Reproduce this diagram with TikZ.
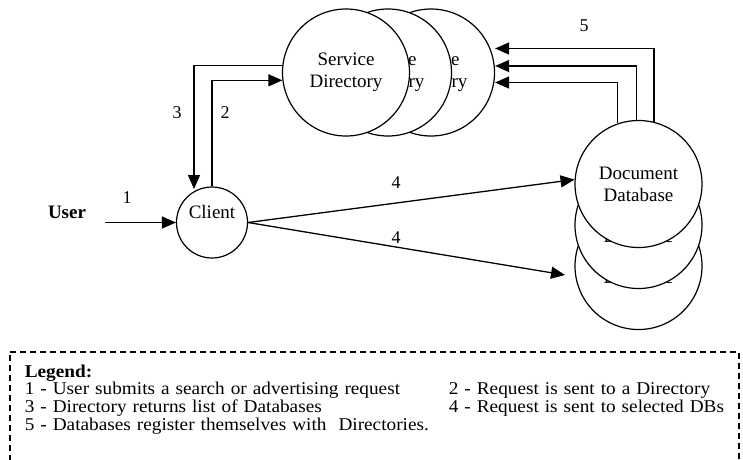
\documentclass[tikz,border=0pt]{standalone}
\usepackage{fontspec}
\setmainfont{Liberation Serif}
\newfontfamily\legendfont[FakeStretch=1.07]{Liberation Serif}
\usetikzlibrary{arrows.meta}

\begin{document}
\begin{tikzpicture}[x=1pt,y=-1pt,
    proc/.style={circle,draw,line width=1.2pt,fill=white,minimum size=127pt,
      inner sep=0pt,align=center,font=\fontsize{19}{22}\selectfont},
    flow/.style={line width=1.3pt,-{Triangle[length=14pt,width=12pt]}},
    num/.style={font=\fontsize{18}{20}\selectfont}]
    \useasboundingbox (0,0) rectangle (743,459);

    % directories, back one first
    \node[proc] (dir3) at (431,72.5) {Service\\Directory};
    \node[proc] (dir2) at (388,72.5) {Service\\Directory};
    \node[proc] (dir1) at (346,72.5) {Service\\Directory};

    % databases, back one first
    \node[proc] (db3) at (638.5,266) {Document\\Database};
    \node[proc] (db2) at (638.5,225) {Document\\Database};
    \node[proc] (db1) at (638.5,184) {Document\\Database};

    \node[proc,minimum size=71pt] (client) at (212,222.5) {};
    \node[font=\fontsize{19}{22}\selectfont] (clienttxt) at (212,211.5) {Client};
    \node[font=\fontsize{19}{22}\selectfont\bfseries] (user) at (67,212) {User};

    \coordinate (userout) at (105,222.5);
    \coordinate (clientin) at (194,189);
    \coordinate (dbin) at (565,275);

    \draw[flow] (userout) -- (client);
    \draw[flow] (client.north) |- (dir1.187);
    \draw[flow] (dir1.174) -| (clientin);
    \draw[flow] (client.east) -- (db1.176);
    \draw[flow] (client.east) -- (dbin);
    \draw[flow] (db1.76) |- ([yshift=24pt]dir3.east);
    \draw[flow] (db1.92) |- ([yshift=6.5pt]dir3.east);
    \draw[flow] (db1.109) |- ([yshift=-10pt]dir3.east);

    \node[num] (n1) at (127,198) {1};
    \node[num] (n2) at (225,113) {2};
    \node[num] (n3) at (177,113) {3};
    \node[num] (n4a) at (396,183) {4};
    \node[num] (n4b) at (396,238) {4};
    \node[num] (n5) at (584,26) {5};

    \node[draw,dash pattern=on 6pt off 4pt,line width=1.6pt,anchor=north west,
      inner xsep=15pt,inner ysep=13pt,text width=699pt,text height=12.5pt,
      text depth=110pt,align=left,font=\legendfont\fontsize{18}{17}\selectfont]
      (legend) at (9,351) {%
      \begin{tabular}[t]{@{}p{424pt}@{}l@{}}
        \textbf{Legend:} & \\
        1 - User submits a search or advertising request & 2 - Request is sent to a Directory\\
        3 - Directory returns list of Databases & 4 - Request is sent to selected DBs\\
        5 - Databases register themselves with\ \ Directories. &
      \end{tabular}};
\end{tikzpicture}
\end{document}
